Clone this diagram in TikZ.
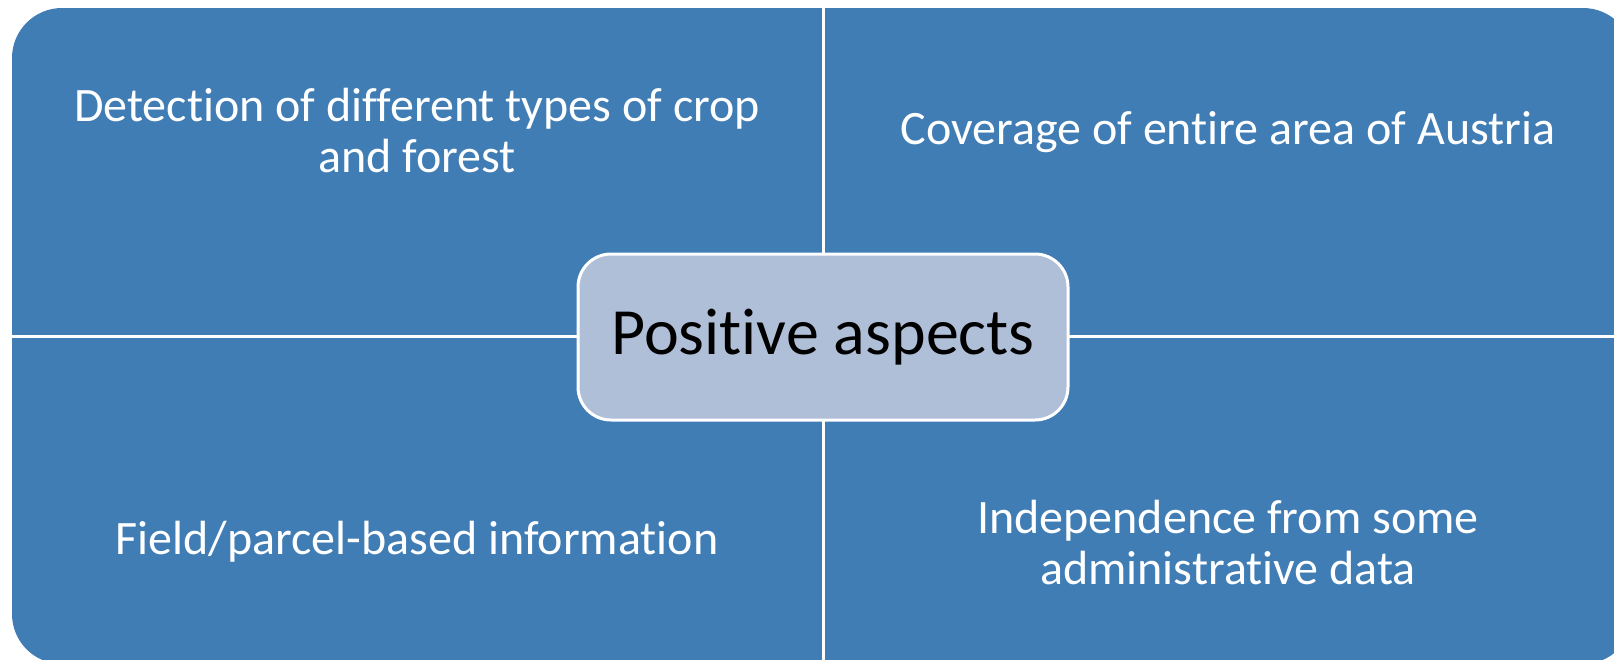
\documentclass[tikz,border=0pt]{standalone}
\usepackage{fontspec}
\setmainfont{Carlito}[RawFeature={-liga;-clig;-calt}]
\usetikzlibrary{positioning}
\definecolor{quadblue}{RGB}{65,125,181}
\definecolor{hubfill}{RGB}{176,191,216}
\tikzset{
  quadtext/.style={text=white, align=center, font=\fontsize{48}{51}\selectfont},
  hub/.style={draw=white, line width=3pt, fill=hubfill, rounded corners=33pt,
    minimum width=490pt, minimum height=166pt, font=\fontsize{66}{80}\selectfont},
}
\begin{document}
\begin{tikzpicture}[x=1pt,y=-1pt]
\useasboundingbox (0,0) rectangle (1614,659);
\clip (0,0) rectangle (1614,659);
% background panel
\fill[quadblue, rounded corners=50pt] (12,8) rectangle (1633,664);
% dividers
\coordinate (top) at (823,8);
\coordinate (bottom) at (823,664);
\coordinate (left) at (12,336);
\coordinate (right) at (1633,336);
\draw[white, line width=3pt] (top) -- (bottom);
\draw[white, line width=3pt] (left) -- (right);
% hub
\node[hub] (hub) at (823,337) {Positive aspects};
% quadrant labels
\node[quadtext] (crop) at (417,131) {Detection of different types of crop\\and forest};
\node[quadtext] (cover) at (1228,132) {Coverage of entire area of Austria};
\node[quadtext] (field) at (417,542) {Field/parcel-based information};
\node[quadtext] (indep) at (1228,543) {Independence from some\\administrative data};
\end{tikzpicture}
\end{document}
